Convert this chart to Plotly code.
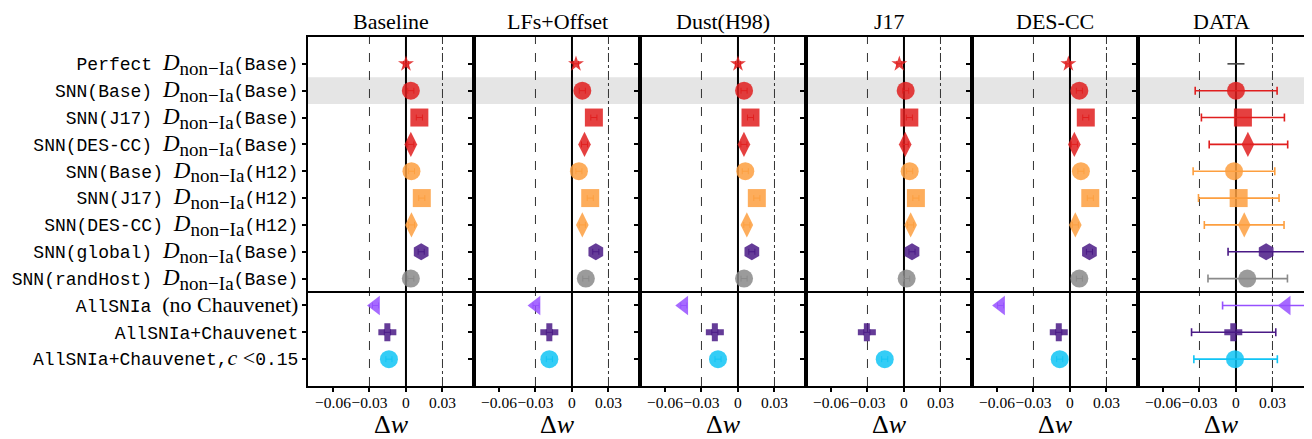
import plotly.graph_objects as go

# ---------------- data ----------------
panel_titles = ["Baseline", "LFs+Offset", "Dust(H98)", "J17", "DES-CC", "DATA"]

SERIF = "Liberation Serif"
D = ('<span style="font-family:Liberation Serif;font-size:23px"><i>D</i>'
     '<sub><span style="font-size:19px">non\u2212Ia</span></sub></span>')
row_labels = [
    f"Perfect {D}(Base)",
    f"SNN(Base) {D}(Base)",
    f"SNN(J17) {D}(Base)",
    f"SNN(DES-CC) {D}(Base)",
    f"SNN(Base) {D}(H12)",
    f"SNN(J17) {D}(H12)",
    f"SNN(DES-CC) {D}(H12)",
    f"SNN(global) {D}(Base)",
    f"SNN(randHost) {D}(Base)",
    'AllSNIa <span style="font-family:Liberation Serif;font-size:22px">(no Chauvenet)</span>',
    "AllSNIa+Chauvenet",
    'AllSNIa+Chauvenet,<span style="font-family:Liberation Serif;font-size:22px"><i>c</i> &lt;</span>0.15',
]
row_pos = list(range(12))

dw_baseline = [0.0, 0.004, 0.011, 0.004, 0.0045, 0.013, 0.0045, 0.0125, 0.004, -0.025, -0.0153, -0.014]
dw_lfs_offset = [0.0033, 0.0085, 0.018, 0.0103, 0.0057, 0.015, 0.0085, 0.0196, 0.0114, -0.0295, -0.0186, -0.0186]
dw_dust = [0.0, 0.005, 0.0103, 0.0049, 0.006, 0.0155, 0.0073, 0.0114, 0.005, -0.0445, -0.019, -0.0164]
dw_j17 = [-0.0038, 0.0014, 0.0044, 0.001, 0.0047, 0.0098, 0.0055, 0.0066, 0.0022, -0.0825, -0.0305, -0.0158]
dw_descc = [-0.0013, 0.0077, 0.013, 0.0036, 0.009, 0.0167, 0.0044, 0.016, 0.0077, -0.057, -0.0092, -0.0084]
dw_data = [0.0, 0.0, 0.0057, 0.0098, -0.0016, 0.0022, 0.0068, 0.0248, 0.0093, 0.0413, -0.0022, -0.0008]

sim_err = [0.002, 0.0025, 0.0025, 0.0025, 0.0025, 0.0025, 0.0025, 0.0025, 0.0025, 0.0025, 0.0025, 0.0025]
data_err_minus = [0.007, 0.0335, 0.0341, 0.0318, 0.0336, 0.033, 0.0328, 0.0313, 0.0323, 0.0523, 0.0343, 0.0338]
data_err_plus = [0.007, 0.0338, 0.0341, 0.0327, 0.0335, 0.0332, 0.0327, 0.034, 0.033, 0.034, 0.0349, 0.0348]

x_tick_vals = [-0.06, -0.03, 0, 0.03]
x_tick_text = ["\u22120.06", "\u22120.03", "0", "0.03"]

# ---------------- styles ----------------
RED, ORANGE, PURPLE, GRAY, LPURPLE, CYAN = (
    "#e01e1e", "#fd9f3f", "#4a1a86", "#8a8a8a", "#9650ff", "#10c4f5")
row_colors = [RED, RED, RED, RED, ORANGE, ORANGE, ORANGE, PURPLE, GRAY, LPURPLE, PURPLE, CYAN]
row_symbols = ["star", "circle", "square", "diamond-tall", "circle", "square", "diamond-tall",
               "hexagon", "circle", "triangle-left", "cross", "circle"]
row_sizes = [12, 18, 18, 18, 18, 18, 18, 17, 18, 17, 15, 18]

panel_values = [dw_baseline, dw_lfs_offset, dw_dust, dw_j17, dw_descc, dw_data]

fig = go.Figure()
XR = [-0.0805, 0.0559]

for p, vals in enumerate(panel_values):
    xa = "x" if p == 0 else f"x{p+1}"
    ya = "y" if p == 0 else f"y{p+1}"
    is_data = (p == 5)
    for r in row_pos:
        if is_data:
            err = dict(type="data", symmetric=False, array=[data_err_plus[r]],
                       arrayminus=[data_err_minus[r]],
                       color=row_colors[r] if r > 0 else "#444444",
                       thickness=1.6, width=4 if r > 0 else 0)
        else:
            err = dict(type="data", array=[sim_err[r]], color=row_colors[r],
                       thickness=1, width=3)
        show_marker = not (is_data and r == 0)
        fig.add_trace(go.Scatter(
            x=[vals[r]], y=[r], xaxis=xa, yaxis=ya, mode="markers",
            marker=dict(symbol=row_symbols[r], size=row_sizes[r] if show_marker else 1,
                        color=row_colors[r], opacity=0.85 if show_marker else 0,
                        line=dict(width=0)),
            error_x=err, showlegend=False, hoverinfo="skip"))

# page body has an 8px default margin: compensate so the plot lands where the reference is
layout = dict(
    width=1304, height=431,
    margin=dict(l=300, r=8, t=29, b=53, autoexpand=False),
    paper_bgcolor="white", plot_bgcolor="white",
    showlegend=False,
)
shapes = [
    dict(type="rect", xref="paper", x0=0, x1=1, yref="y", y0=0.5, y1=1.5,
         fillcolor="rgb(229,229,229)", line=dict(width=0), layer="below"),
]
annotations = []
for p in range(6):
    xk = "xaxis" if p == 0 else f"xaxis{p+1}"
    yk = "yaxis" if p == 0 else f"yaxis{p+1}"
    xa = "x" if p == 0 else f"x{p+1}"
    ya = "y" if p == 0 else f"y{p+1}"
    layout[xk] = dict(
        domain=[p / 6, (p + 1) / 6], anchor=ya, range=XR,
        tickvals=x_tick_vals, ticktext=x_tick_text, ticks="outside", ticklen=4,
        tickwidth=1.5, tickcolor="black", tickangle=0, automargin=False,
        ticklabelstandoff=-3,
        tickfont=dict(family=SERIF, size=15.5, color="black"),
        showline=True, mirror=True, linewidth=2, linecolor="black",
        showgrid=False, zeroline=False,
        title=dict(text="\u0394<i>w</i>", font=dict(family=SERIF, size=26, color="black"),
                   standoff=6),
    )
    yax = dict(
        domain=[0, 1], anchor=xa, range=[12, -1], automargin=False,
        tickvals=row_pos, showticklabels=(p == 0),
        ticks="outside", ticklen=4, tickwidth=2, tickcolor="black",
        showline=True, mirror=True, linewidth=2, linecolor="black",
        showgrid=False, zeroline=False,
    )
    if p == 0:
        yax["ticktext"] = row_labels
        yax["tickfont"] = dict(family="Liberation Mono", size=18, color="black")
    layout[yk] = yax
    shapes += [
        dict(type="line", xref=xa, yref="paper", x0=-0.03, x1=-0.03, y0=0, y1=1,
             line=dict(color="#333333", width=1, dash="dash"), layer="below"),
        dict(type="line", xref=xa, yref="paper", x0=0.03, x1=0.03, y0=0, y1=1,
             line=dict(color="#333333", width=1, dash="dashdot"), layer="below"),
        dict(type="line", xref=xa, yref="paper", x0=0, x1=0, y0=0, y1=1,
             line=dict(color="black", width=2), layer="below"),
    ]
    annotations.append(dict(
        text=panel_titles[p], xref="paper", yref="paper", x=(p + 0.5) / 6, y=1,
        xanchor="center", yanchor="bottom", yshift=1, showarrow=False,
        font=dict(family=SERIF, size=22, color="black")))

shapes.append(dict(type="line", xref="paper", x0=0, x1=1, yref="y", y0=8.5, y1=8.5,
                   line=dict(color="black", width=2)))
for k in range(1, 6):
    shapes.append(dict(type="line", xref="paper", x0=k / 6, x1=k / 6, yref="paper",
                       y0=0, y1=1, line=dict(color="black", width=4)))

layout["shapes"] = shapes
layout["annotations"] = annotations
fig.update_layout(**layout)
fig.write_html("out.html")
